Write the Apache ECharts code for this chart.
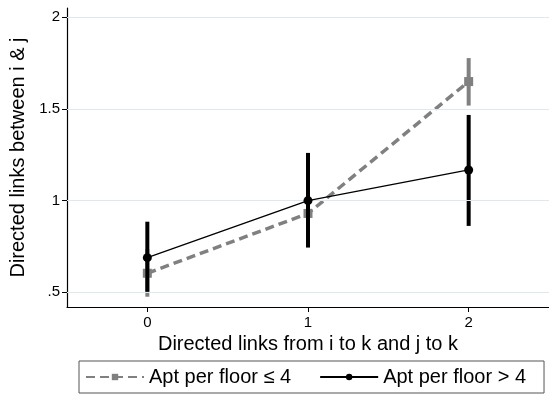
<!DOCTYPE html>
<html>
<head>
<meta charset="utf-8">
<script src="https://cdn.jsdelivr.net/npm/echarts@6/dist/echarts.min.js"></script>
<style>
  html, body { margin: 0; padding: 0; background: #fff; }
  #chart { width: 549px; height: 394px; }
</style>
</head>
<body>
<div id="chart"></div>
<script>
// Directed links from i to k and j to k
const categories = [0, 1, 2];
const yTicks = [0.5, 1, 1.5, 2];

// Apt per floor <= 4: estimates and 95% intervals
const lowMean = [0.604, 0.93, 1.649];
const lowLower = [0.476, 0.80, 1.518];
const lowUpper = [0.735, 1.06, 1.777];

// Apt per floor > 4: estimates and 95% intervals
const highMean = [0.689, 1.0, 1.167];
const highLower = [0.503, 0.744, 0.862];
const highUpper = [0.885, 1.26, 1.467];

const GRAY = '#808080';
const BLACK = '#000000';
const FONT = 'Liberation Sans, Arial, Helvetica, sans-serif';

function ciSeries(lower, upper, color, z) {
  return {
    type: 'custom',
    z: z,
    silent: true,
    data: categories.map((c, i) => [c, lower[i], upper[i]]),
    renderItem: function (params, api) {
      const a = api.coord([api.value(0), api.value(1)]);
      const b = api.coord([api.value(0), api.value(2)]);
      return {
        type: 'line',
        shape: { x1: a[0], y1: a[1], x2: b[0], y2: b[1] },
        style: { stroke: color, lineWidth: 4 }
      };
    }
  };
}

const chart = echarts.init(document.getElementById('chart'), null, { renderer: 'canvas' });

chart.setOption({
  animation: false,
  backgroundColor: '#ffffff',
  textStyle: { fontFamily: FONT },
  grid: { left: 67, right: -5.5, top: 8, bottom: 87 },
  xAxis: {
    type: 'value',
    min: -0.5,
    max: 2.5,
    interval: 0.5,
    name: 'Directed links from i to k and j to k',
    nameLocation: 'middle',
    nameGap: 24,
    nameTextStyle: { fontSize: 20, color: '#000', fontFamily: FONT },
    axisLine: { onZero: false, lineStyle: { color: '#000', width: 1.2 } },
    axisTick: {
      length: 5,
      lineStyle: { color: '#000' },
      customValues: categories
    },
    axisLabel: {
      fontSize: 15,
      color: '#000',
      margin: 8,
      customValues: categories,
      formatter: v => String(v)
    },
    splitLine: { show: false }
  },
  yAxis: {
    type: 'value',
    min: 0.42,
    max: 2.05,
    name: 'Directed links between i & j',
    nameLocation: 'middle',
    nameGap: 37,
    nameTextStyle: { fontSize: 20, color: '#000', fontFamily: FONT },
    axisLine: { show: true, onZero: false, lineStyle: { color: '#000', width: 1.2 } },
    axisTick: {
      show: true,
      length: 5,
      lineStyle: { color: '#000' },
      customValues: yTicks
    },
    axisLabel: {
      fontSize: 15,
      color: '#000',
      margin: 7,
      customValues: yTicks,
      formatter: v => (v === 0.5 ? '.5' : String(v))
    },
    splitLine: { show: false }
  },
  legend: {
    left: 79,
    top: 361,
    itemGap: 28,
    itemWidth: 58,
    itemHeight: 8,
    padding: [6, 18, 6, 6],
    borderColor: '#555',
    borderWidth: 1,
    borderRadius: 0,
    textStyle: { fontSize: 20, color: '#000', fontFamily: FONT },
    data: [
      { name: 'Apt per floor ≤ 4' },
      { name: 'Apt per floor > 4' }
    ]
  },
  series: [
    // horizontal reference lines at the y ticks
    {
      type: 'line',
      silent: true,
      data: [],
      markLine: {
        silent: true,
        symbol: 'none',
        label: { show: false },
        lineStyle: { color: '#dde9ed', width: 1, type: 'solid' },
        data: yTicks.map(v => ({ yAxis: v }))
      },
      z: 1
    },
    ciSeries(lowLower, lowUpper, GRAY, 2),
    {
      name: 'Apt per floor ≤ 4',
      type: 'line',
      z: 3,
      data: categories.map((c, i) => [c, lowMean[i]]),
      symbol: 'rect',
      symbolSize: 9,
      itemStyle: { color: GRAY },
      lineStyle: { color: GRAY, width: 3.5, type: [9, 5] }
    },
    ciSeries(highLower, highUpper, BLACK, 4),
    {
      name: 'Apt per floor > 4',
      type: 'line',
      z: 5,
      data: categories.map((c, i) => [c, highMean[i]]),
      symbol: 'circle',
      symbolSize: 9,
      itemStyle: { color: BLACK },
      lineStyle: { color: BLACK, width: 1.3 }
    }
  ]
});
</script>
</body>
</html>
